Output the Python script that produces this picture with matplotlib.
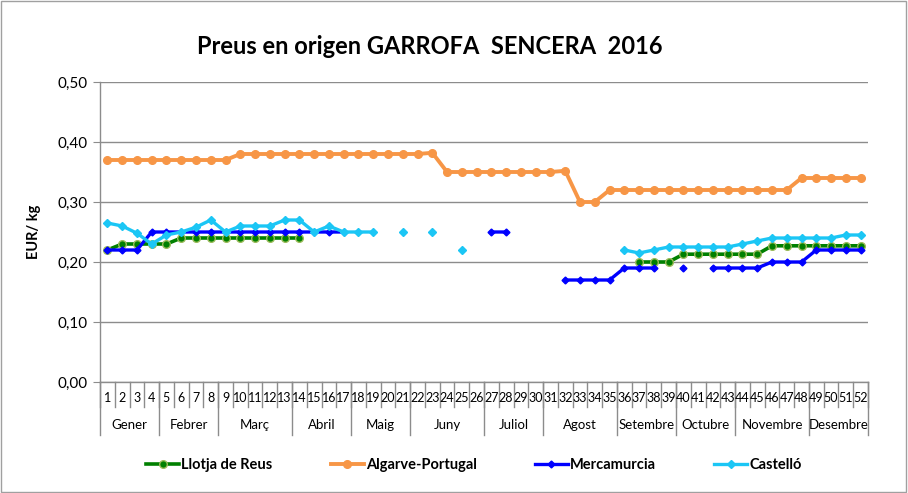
import matplotlib
matplotlib.use("Agg")
import matplotlib.pyplot as plt
from matplotlib.lines import Line2D
from matplotlib.patches import Rectangle
import numpy as np

nan = np.nan

# setmanes 1..52
weeks = list(range(1, 53))

months = ["Gener", "Febrer", "Març", "Abril", "Maig", "Juny", "Juliol",
          "Agost", "Setembre", "Octubre", "Novembre", "Desembre"]
month_weeks = [4, 4, 5, 4, 4, 5, 4, 5, 4, 4, 5, 4]

llotja = ([0.22, 0.23, 0.23, 0.23, 0.23] + [0.24] * 9 + [nan] * 22
          + [0.20] * 3 + [0.213] * 6 + [0.227] * 7)
algarve = ([0.37] * 9 + [0.38] * 13 + [0.382] + [0.35] * 8 + [0.352]
           + [0.30, 0.30] + [0.32] * 13 + [0.34] * 5)
mercamurcia = ([0.22] * 3 + [0.25] * 14 + [nan] * 9 + [0.25] * 2 + [nan] * 3
               + [0.17] * 4 + [0.19] * 3 + [nan] + [0.19] + [nan]
               + [0.19] * 4 + [0.20] * 3 + [0.22] * 4)
castello = ([0.265, 0.26, 0.248, 0.23, 0.245, 0.25, 0.258, 0.27, 0.25, 0.26,
             0.26, 0.26, 0.27, 0.27, 0.25, 0.26, 0.25, 0.25, 0.25,
             nan, 0.25, nan, 0.25, nan, 0.22] + [nan] * 10
            + [0.22, 0.215, 0.22, 0.225, 0.225, 0.225, 0.225, 0.225, 0.23,
               0.235, 0.24, 0.24, 0.24, 0.24, 0.24, 0.245, 0.245])

plt.rcParams['font.family'] = ['Lato', 'DejaVu Sans']

fig = plt.figure(figsize=(9.08, 4.93), dpi=100)
ax = fig.add_axes([100 / 908, 111 / 493, 768 / 908, 300 / 493])

grid_c = '#8c8c8c'

# series
ax.plot(weeks, llotja, color='#008000', lw=2.6, marker='o', markersize=5.5,
        markerfacecolor='#008000', markeredgecolor='#9BBB59', markeredgewidth=1,
        label='Llotja de Reus', zorder=3)
ax.plot(weeks, algarve, color='#F79646', lw=2.8, marker='o', markersize=5.5,
        markerfacecolor='#F79646', markeredgecolor='#F79646',
        label='Algarve-Portugal', zorder=3)
ax.plot(weeks, mercamurcia, color='#0000FF', lw=2.4, marker='D', markersize=3.5,
        markerfacecolor='#0000FF', markeredgecolor='#0000FF',
        label='Mercamurcia', zorder=4)
ax.plot(weeks, castello, color='#1BC6F5', lw=2.4, marker='D', markersize=4.5,
        markerfacecolor='#1BC6F5', markeredgecolor='#1BC6F5',
        label='Castelló', zorder=5)

ax.set_xlim(0.5, 52.5)
ax.set_ylim(0, 0.5)
ax.set_yticks(np.arange(0, 0.51, 0.1))
ax.set_yticklabels([f"{v:.2f}".replace('.', ',') for v in np.arange(0, 0.51, 0.1)],
                   fontsize=11)
ax.tick_params(axis='y', length=5, color=grid_c, pad=4)
ax.yaxis.grid(True, color=grid_c, lw=1)
ax.set_axisbelow(True)
ax.set_xticks([])
for s in ['top', 'right']:
    ax.spines[s].set_visible(False)
for s in ['left', 'bottom']:
    ax.spines[s].set_color(grid_c)
    ax.spines[s].set_linewidth(1)

# eix de categories a dos nivells
tr = ax.get_xaxis_transform()
for w in weeks:
    ax.text(w, -0.053, str(w), transform=tr, ha='center', va='center', fontsize=9)
for b in np.arange(0.5, 53, 1):
    ax.add_line(Line2D([b, b], [0, -0.083], transform=tr, color=grid_c,
                       lw=1, clip_on=False))
start = 0.5
for m, n in zip(months, month_weeks):
    end = start + n
    ax.text((start + end) / 2, -0.143, m, transform=tr, ha='center',
            va='center', fontsize=9.5)
    start = end
edges = np.cumsum([0] + month_weeks) + 0.5
for b in edges:
    ax.add_line(Line2D([b, b], [0, -0.177], transform=tr, color=grid_c,
                       lw=1, clip_on=False))

ax.set_ylabel('EUR/ kg', fontsize=10.5, fontweight='bold', labelpad=12)

fig.text(430 / 908, 1 - 47 / 493, 'Preus en origen GARROFA  SENCERA  2016',
         ha='center', va='center', fontsize=17, fontweight='bold')

fig.legend(loc='center', bbox_to_anchor=(474 / 908, 1 - 465 / 493), ncol=4,
           frameon=False, prop={'weight': 'bold', 'size': 10.5},
           handlelength=2.25, handletextpad=0.15, columnspacing=4.0)

fig.add_artist(Rectangle((0.001, 0.002), 0.997, 0.996, transform=fig.transFigure,
                         fill=False, edgecolor='#a0a0a0', lw=1))

fig.savefig('out.png', dpi=100)
